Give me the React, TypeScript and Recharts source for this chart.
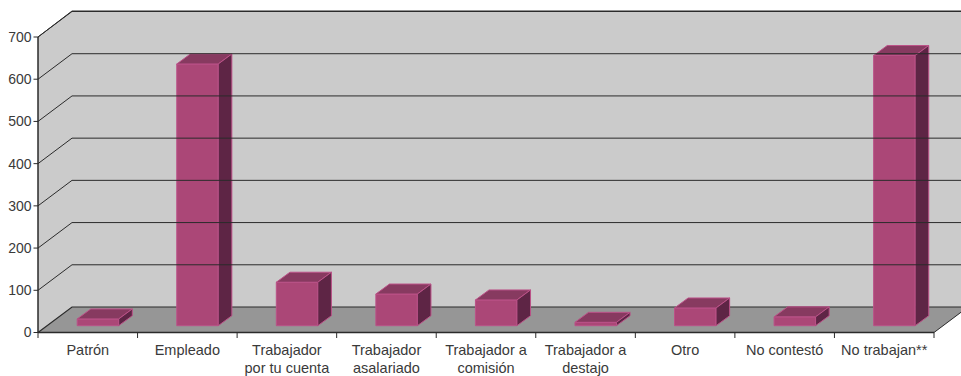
import React from "react";
import { ComposedChart, Bar, XAxis, YAxis, ReferenceArea, ReferenceLine } from "recharts";

const categories = ["Patrón", "Empleado", "Trabajador\npor tu cuenta", "Trabajador\nasalariado", "Trabajador a\ncomisión", "Trabajador a\ndestajo", "Otro", "No contestó", "No trabajan**"];
const values = [16, 620, 103, 75, 61, 8, 42, 21, 640];
const yTicks = [0, 100, 200, 300, 400, 500, 600, 700];
const gridValues = [100, 200, 300, 400, 500, 600, 700];

const data = categories.map((name, i) => ({ name, value: values[i] }));

const CHART_W = 961;
const CHART_H = 376;
const LEFT = 38;
const RIGHT_MARGIN = 27;
const BAND = (CHART_W - LEFT - RIGHT_MARGIN) / categories.length;
const DEPTH_X = 34;
const DEPTH_Y = 25.5;
const INK = "#2b2b2b";
const TEXT = "#3a3a3a";
const FONT = "'Liberation Sans', Arial, sans-serif";

function Walls(p: any) {
  const l = p.x, t = p.y, r = p.x + p.width, b = p.y + p.height;
  const wall = `${l},${t} ${l + DEPTH_X},${t - DEPTH_Y - 0.5} ${r + DEPTH_X},${t - DEPTH_Y - 0.5} ${r + DEPTH_X},${b - DEPTH_Y} ${r},${b} ${l},${b}`;
  const floor = `${l},${b} ${l + DEPTH_X},${b - DEPTH_Y} ${r + DEPTH_X},${b - DEPTH_Y} ${r},${b}`;
  return (
    <g>
      <polygon points={wall} fill="#cbcbcb" />
      <polygon points={floor} fill="#969696" />
      <polyline points={`${l},${b} ${l + DEPTH_X},${b - DEPTH_Y} ${r + DEPTH_X},${b - DEPTH_Y}`} fill="none" stroke={INK} strokeWidth={1.2} />
      <line x1={r} y1={b} x2={r + DEPTH_X} y2={b - DEPTH_Y} stroke={INK} strokeWidth={1} />
      <line x1={l} y1={t} x2={l} y2={b} stroke={INK} strokeWidth={1} />
      <polyline points={`${l},${t} ${l + DEPTH_X},${t - DEPTH_Y - 0.5} ${r + DEPTH_X},${t - DEPTH_Y - 0.5}`} fill="none" stroke={INK} strokeWidth={1} />
    </g>
  );
}

function GridLine(p: any) {
  const l = p.x1, y = p.y1, r = p.x2;
  return <polyline points={`${l},${y} ${l + DEPTH_X},${y - DEPTH_Y} ${r + DEPTH_X},${y - DEPTH_Y}`} fill="none" stroke={INK} strokeWidth={1} />;
}

function Box(p: any) {
  const ox = 10.2, oy = -6.8, dx = 13.6, dy = -10;
  const x = p.x + ox, y = p.y + oy, w = p.width, h = p.height;
  const stroke = "#bb5288";
  return (
    <g stroke={stroke} strokeWidth={1} strokeLinejoin="round">
      <polygon points={`${x},${y} ${x + w},${y} ${x + w},${y + h} ${x},${y + h}`} fill="#ab4777" />
      <polygon points={`${x},${y} ${x + dx},${y + dy} ${x + w + dx},${y + dy} ${x + w},${y}`} fill="#873a60" />
      <polygon points={`${x + w},${y} ${x + w + dx},${y + dy} ${x + w + dx},${y + h + dy} ${x + w},${y + h}`} fill="#5e2545" />
    </g>
  );
}

function XTick(p: any) {
  const lines = String(p.payload.value).split("\n");
  const last = p.index === categories.length - 1;
  return (
    <g>
      <line x1={p.x - BAND / 2} y1={332.5} x2={p.x - BAND / 2} y2={338} stroke={INK} />
      {last && <line x1={p.x + BAND / 2} y1={332.5} x2={p.x + BAND / 2} y2={338} stroke={INK} />}
      <text textAnchor="middle" fontFamily={FONT} fontSize={14.5} fill={TEXT}>
        {lines.map((s, i) => (
          <tspan key={i} x={p.x} y={355 + i * 18.3}>{s}</tspan>
        ))}
      </text>
    </g>
  );
}

export default function App() {
  return (
    <div style={{ position: "absolute", left: 0, top: 0, width: CHART_W, height: CHART_H }}>
      <ComposedChart width={CHART_W} height={CHART_H} data={data} barSize={41.5} margin={{ top: 37, right: RIGHT_MARGIN, bottom: 0, left: 0 }}>
        <XAxis dataKey="name" interval={0} height={43.5} tick={<XTick />} tickLine={false} axisLine={{ stroke: INK, strokeWidth: 1.3 }} />
        <YAxis width={LEFT} domain={[0, 700]} ticks={yTicks} interval={0} tickSize={4.5} tickMargin={2} axisLine={{ stroke: INK }} tickLine={{ stroke: INK }} tick={{ fontFamily: FONT, fontSize: 14, fill: TEXT }} />
        <ReferenceArea y1={0} y2={700} shape={<Walls />} ifOverflow="visible" />
        {gridValues.map((v) => (
          <ReferenceLine key={v} y={v} shape={<GridLine />} ifOverflow="visible" />
        ))}
        <Bar dataKey="value" shape={<Box />} isAnimationActive={false} />
      </ComposedChart>
    </div>
  );
}
